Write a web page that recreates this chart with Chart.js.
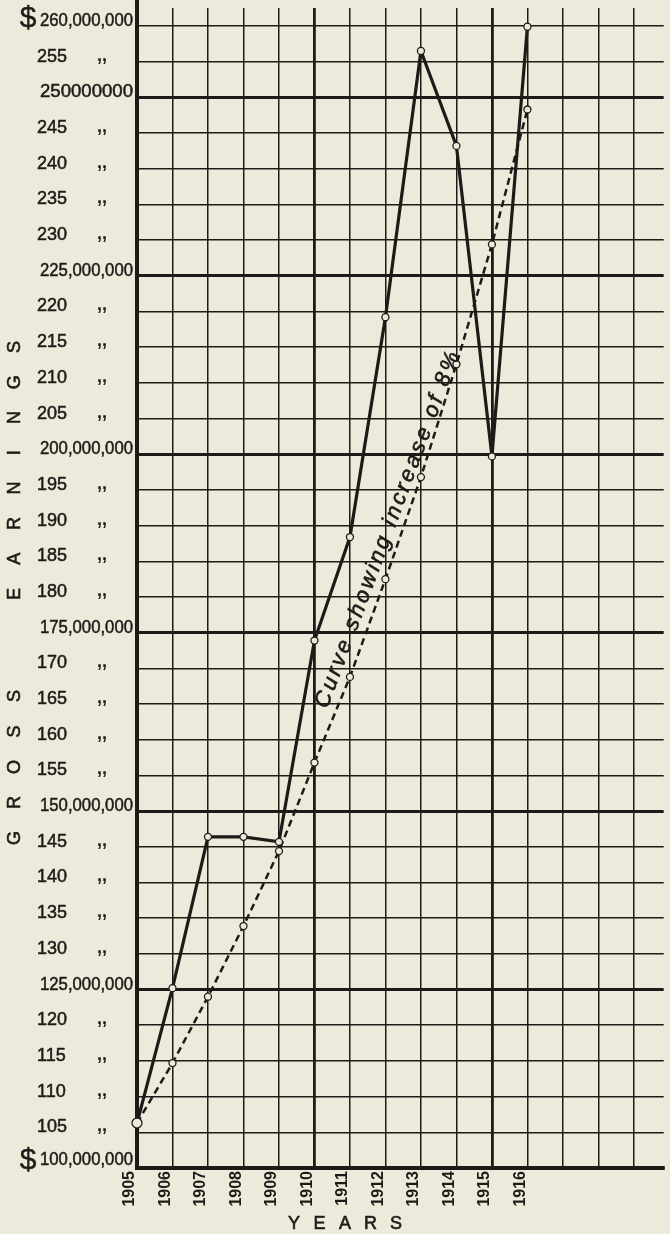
<!DOCTYPE html>
<html>
<head>
<meta charset="utf-8">
<style>
html,body{margin:0;padding:0;background:#eeeadb;}
#wrap{width:670px;height:1234px;position:relative;overflow:hidden;}
canvas{display:block;}
</style>
<script src="https://cdn.jsdelivr.net/npm/chart.js@4.4.1/dist/chart.umd.min.js"></script>
</head>
<body>
<div id="wrap"><canvas id="c" width="670" height="1234"></canvas></div>
<script>
// ---- data (millions of dollars) ----
const years = [1905, 1906, 1907, 1908, 1909, 1910, 1911, 1912, 1913, 1914, 1915, 1916];
const grossEarnings = [106.3, 125.2, 146.4, 146.4, 145.7, 173.9, 188.4, 219.2, 256.5, 243.2, 199.7, 259.9];
const curve8pct = [106.3, 114.7, 124.0, 133.9, 144.4, 156.8, 168.8, 182.5, 196.8, 212.6, 229.4, 248.3];
const xGridYears = [1905, 1906, 1907, 1908, 1909, 1910, 1911, 1912, 1913, 1914, 1915, 1916, 1917, 1918, 1919];
const xLabelYears = [1905, 1906, 1907, 1908, 1909, 1910, 1911, 1912, 1913, 1914, 1915, 1916];
const yTickValues = [100, 105, 110, 115, 120, 125, 130, 135, 140, 145, 150, 155, 160, 165, 170, 175, 180,
  185, 190, 195, 200, 205, 210, 215, 220, 225, 230, 235, 240, 245, 250, 255, 260];
const yTickLabels = ['100,000,000', '105', '110', '115', '120', '125,000,000', '130', '135', '140', '145',
  '150,000,000', '155', '160', '165', '170', '175,000,000', '180', '185', '190', '195', '200,000,000',
  '205', '210', '215', '220', '225,000,000', '230', '235', '240', '245', '250000000', '255', '260,000,000'];
const yDollarValues = [100, 260];
const yTitleWords = ['GROSS', 'EARNINGS'];
const xTitle = 'YEARS';
const noteWords = 'Curve showing increase of 8%';

const INK = '#1d1a17';
const BG = '#eeeadb';
const FONT = '"Liberation Sans", Arial, sans-serif';

const textPlugin = {
  id: 'oldPrintText',
  afterDraw(chart) {
    const ctx = chart.ctx;
    const ys = chart.scales.y, xs = chart.scales.x;
    ctx.save();
    ctx.fillStyle = INK;
    ctx.strokeStyle = INK;
    const heavy = (txt, x, y, lw) => { ctx.lineWidth = lw; ctx.strokeText(txt, x, y); ctx.fillText(txt, x, y); };
    // top extension of the y axis rule
    ctx.fillRect(ys.right - 2, 0, 4, chart.chartArea.top);
    // y tick labels
    yTickValues.forEach((v, i) => {
      const py = ys.getPixelForValue(v);
      const lab = yTickLabels[i];
      const major = lab.length > 4;
      if (major) {
        ctx.font = '18px ' + FONT;
        ctx.textAlign = 'right';
        ctx.textBaseline = 'middle';
        const w = ctx.measureText(lab).width;
        ctx.save();
        ctx.translate(133, py - (v === 100 ? 8 : 5));
        ctx.scale(93 / w, 1);
        heavy(lab, 0, 0, 0.5);
        ctx.restore();
      } else {
        ctx.font = '18px ' + FONT;
        ctx.textAlign = 'left';
        ctx.textBaseline = 'middle';
        heavy(lab, 37, py - 5, 0.5);
        ctx.font = 'bold 18px ' + FONT;
        ctx.textBaseline = 'alphabetic';
        ctx.fillText(',,', 97, py - 1);
      }
      if (yDollarValues.includes(v)) {
        ctx.font = '30px ' + FONT;
        ctx.textAlign = 'center';
        ctx.textBaseline = 'middle';
        heavy('$', 28, py - 7, 0.4);
      }
    });
    // y title (rotated, spaced letters)
    ctx.font = '18px ' + FONT;
    ctx.textAlign = 'center';
    ctx.textBaseline = 'middle';
    const drawSpaced = (word, startY, step) => {
      for (let k = 0; k < word.length; k++) {
        ctx.save();
        ctx.translate(15, startY - k * step);
        ctx.rotate(-Math.PI / 2);
        heavy(word[k], 0, 0, 0.6);
        ctx.restore();
      }
    };
    drawSpaced(yTitleWords[0], 838, 35.5);
    drawSpaced(yTitleWords[1], 594, 35.3);
    // x title
    ctx.font = '18px ' + FONT;
    for (let k = 0; k < xTitle.length; k++) {
      heavy(xTitle[k], 294 + k * 25.5, 1224, 0.6);
    }
    // note along the 8% curve
    const p1x = xs.getPixelForValue(years[5]), p1y = ys.getPixelForValue(curve8pct[5]);
    const p2x = xs.getPixelForValue(years[8]), p2y = ys.getPixelForValue(curve8pct[8]);
    const ang = Math.atan2(p2y - p1y, p2x - p1x);
    const ax = xs.getPixelForValue(1912.24), ay = ys.getPixelForValue(189.3);
    ctx.translate(ax, ay);
    ctx.rotate(ang);
    ctx.font = 'italic 22px ' + FONT;
    ctx.textAlign = 'center';
    ctx.textBaseline = 'alphabetic';
    try { ctx.letterSpacing = '3px'; } catch (e) {}
    heavy(noteWords, 0, 0, 0.6);
    ctx.restore();
  }
};

const gridW = (major, wMaj, wMin) => (c) => (c.tick && major(c.tick.value) ? wMaj : wMin);

new Chart(document.getElementById('c').getContext('2d'), {
  type: 'line',
  data: {
    datasets: [
      {
        label: 'Gross earnings',
        data: years.map((y, i) => ({ x: y, y: grossEarnings[i] })),
        borderColor: INK,
        borderWidth: 3.2,
        pointRadius: (c) => (c.dataIndex === 0 ? 5 : 3.5),
        pointBackgroundColor: BG,
        pointBorderColor: INK,
        pointBorderWidth: 1.3,
        tension: 0,
        clip: false
      },
      {
        label: 'Curve showing increase of 8%',
        data: years.map((y, i) => ({ x: y, y: curve8pct[i] })),
        borderColor: INK,
        borderWidth: 2.5,
        borderDash: [7, 4.5],
        pointRadius: 3.5,
        pointBackgroundColor: BG,
        pointBorderColor: INK,
        pointBorderWidth: 1.3,
        tension: 0,
        clip: false
      }
    ]
  },
  options: {
    responsive: false,
    animation: false,
    devicePixelRatio: 1,
    layout: { padding: { top: 8, left: 0, right: 0, bottom: 0 } },
    plugins: { legend: { display: false }, tooltip: { enabled: false } },
    scales: {
      x: {
        type: 'linear',
        min: 1905,
        max: 1919.84,
        afterFit(s) { s.height = 66; s.paddingLeft = 0; s.paddingRight = 0; },
        afterBuildTicks(s) { s.ticks = xGridYears.map((v) => ({ value: v })); },
        ticks: {
          autoSkip: false,
          minRotation: 90,
          maxRotation: 90,
          padding: 3,
          labelOffset: -7,
          color: INK,
          font: { family: FONT, size: 16, weight: 'bold' },
          callback: (v) => (xLabelYears.includes(v) ? String(v) : '')
        },
        grid: { color: INK, lineWidth: gridW((v) => v % 5 === 0, 2.8, 1.5), drawTicks: false },
        border: { color: INK, width: 4 }
      },
      y: {
        type: 'linear',
        min: 100,
        max: 262.52,
        afterFit(s) { s.width = 137; s.paddingTop = 0; s.paddingBottom = 0; },
        afterBuildTicks(s) { s.ticks = yTickValues.map((v) => ({ value: v })); },
        ticks: { display: false },
        grid: { color: INK, lineWidth: gridW((v) => v % 25 === 0, 3, 1.5), drawTicks: false },
        border: { color: INK, width: 4 }
      }
    }
  },
  plugins: [textPlugin]
});
</script>
</body>
</html>
